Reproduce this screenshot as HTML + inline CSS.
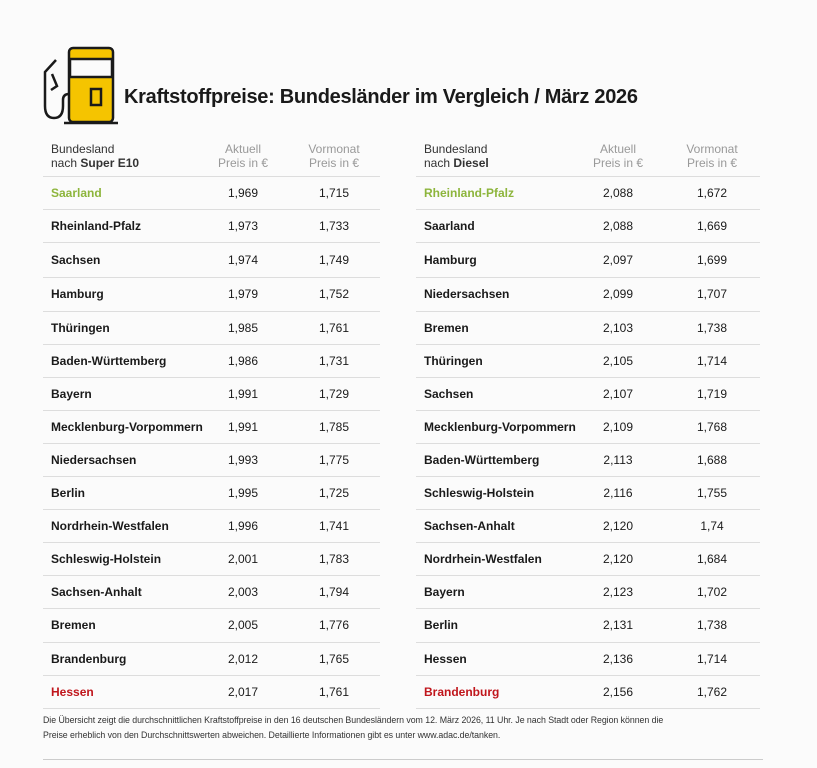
<!DOCTYPE html>
<html><head><meta charset="utf-8"><style>
body{margin:0;width:817px;height:768px;background:#fbfbfb;font-family:"Liberation Sans",sans-serif;color:#1a1a1a;position:relative;overflow:hidden}
.a{position:absolute;white-space:nowrap}
.h{font-size:12px;line-height:14px;color:#333}
.hg{font-size:12px;line-height:14px;color:#999;text-align:center;width:80px}
.r{position:absolute;height:33px;width:337px}
.r span{position:absolute;top:10px;font-size:12px;line-height:14px}
.n{left:8px;font-weight:bold}
.c1{width:60px;text-align:center}
.ln{position:absolute;height:1px;background:#ddd}
.g{color:#8db53c}.rd{color:#c0161c}
</style></head><body>
<svg class="a" style="left:42px;top:46px" width="76" height="80" viewBox="0 0 76 80">
<rect x="27" y="2" width="44" height="74" rx="4" fill="#f5c400" stroke="#1a1a1a" stroke-width="2.5"/>
<rect x="28" y="13" width="42" height="18" fill="#fbfbfb" stroke="#1a1a1a" stroke-width="2.5"/>
<rect x="49" y="43" width="10" height="16" fill="none" stroke="#1a1a1a" stroke-width="2.5"/>
<line x1="22" y1="77" x2="76" y2="77" stroke="#1a1a1a" stroke-width="2.5"/>
<path d="M14 14 L3 26 L3 60 Q3 72 12 72 Q21 72 21 60 L21 54 Q21 48 27 48" fill="none" stroke="#1a1a1a" stroke-width="2.5"/>
<path d="M10 28 L15 40 L9 44" fill="none" stroke="#1a1a1a" stroke-width="2.5"/>
</svg>
<div class="a" style="left:124px;top:86px;font-size:20px;font-weight:bold;letter-spacing:-0.3px">Kraftstoffpreise: Bundesländer im Vergleich / März 2026</div>

<div class="a h" style="left:51px;top:142px">Bundesland<br>nach <b>Super E10</b></div>
<div class="a hg" style="left:203px;top:142px">Aktuell<br>Preis in €</div>
<div class="a hg" style="left:294px;top:142px">Vormonat<br>Preis in €</div>
<div class="a h" style="left:424px;top:142px">Bundesland<br>nach <b>Diesel</b></div>
<div class="a hg" style="left:578px;top:142px">Aktuell<br>Preis in €</div>
<div class="a hg" style="left:672px;top:142px">Vormonat<br>Preis in €</div>

<div class="ln" style="left:43px;top:176px;width:337px"></div>
<div class="ln" style="left:416px;top:176px;width:344px"></div>

<div class="r" style="left:43px;top:176px"><span class="n g">Saarland</span><span class="c1" style="left:170px">1,969</span><span class="c1" style="left:261px">1,715</span></div>
<div class="r" style="left:43px;top:209px"><span class="n">Rheinland-Pfalz</span><span class="c1" style="left:170px">1,973</span><span class="c1" style="left:261px">1,733</span></div>
<div class="r" style="left:43px;top:243px"><span class="n">Sachsen</span><span class="c1" style="left:170px">1,974</span><span class="c1" style="left:261px">1,749</span></div>
<div class="r" style="left:43px;top:277px"><span class="n">Hamburg</span><span class="c1" style="left:170px">1,979</span><span class="c1" style="left:261px">1,752</span></div>
<div class="r" style="left:43px;top:311px"><span class="n">Thüringen</span><span class="c1" style="left:170px">1,985</span><span class="c1" style="left:261px">1,761</span></div>
<div class="r" style="left:43px;top:344px"><span class="n">Baden-Württemberg</span><span class="c1" style="left:170px">1,986</span><span class="c1" style="left:261px">1,731</span></div>
<div class="r" style="left:43px;top:377px"><span class="n">Bayern</span><span class="c1" style="left:170px">1,991</span><span class="c1" style="left:261px">1,729</span></div>
<div class="r" style="left:43px;top:410px"><span class="n">Mecklenburg-Vorpommern</span><span class="c1" style="left:170px">1,991</span><span class="c1" style="left:261px">1,785</span></div>
<div class="r" style="left:43px;top:443px"><span class="n">Niedersachsen</span><span class="c1" style="left:170px">1,993</span><span class="c1" style="left:261px">1,775</span></div>
<div class="r" style="left:43px;top:476px"><span class="n">Berlin</span><span class="c1" style="left:170px">1,995</span><span class="c1" style="left:261px">1,725</span></div>
<div class="r" style="left:43px;top:509px"><span class="n">Nordrhein-Westfalen</span><span class="c1" style="left:170px">1,996</span><span class="c1" style="left:261px">1,741</span></div>
<div class="r" style="left:43px;top:542px"><span class="n">Schleswig-Holstein</span><span class="c1" style="left:170px">2,001</span><span class="c1" style="left:261px">1,783</span></div>
<div class="r" style="left:43px;top:575px"><span class="n">Sachsen-Anhalt</span><span class="c1" style="left:170px">2,003</span><span class="c1" style="left:261px">1,794</span></div>
<div class="r" style="left:43px;top:608px"><span class="n">Bremen</span><span class="c1" style="left:170px">2,005</span><span class="c1" style="left:261px">1,776</span></div>
<div class="r" style="left:43px;top:642px"><span class="n">Brandenburg</span><span class="c1" style="left:170px">2,012</span><span class="c1" style="left:261px">1,765</span></div>
<div class="r" style="left:43px;top:675px"><span class="n rd">Hessen</span><span class="c1" style="left:170px">2,017</span><span class="c1" style="left:261px">1,761</span></div>

<div class="r" style="left:416px;top:176px"><span class="n g">Rheinland-Pfalz</span><span class="c1" style="left:172px">2,088</span><span class="c1" style="left:266px">1,672</span></div>
<div class="r" style="left:416px;top:209px"><span class="n">Saarland</span><span class="c1" style="left:172px">2,088</span><span class="c1" style="left:266px">1,669</span></div>
<div class="r" style="left:416px;top:243px"><span class="n">Hamburg</span><span class="c1" style="left:172px">2,097</span><span class="c1" style="left:266px">1,699</span></div>
<div class="r" style="left:416px;top:277px"><span class="n">Niedersachsen</span><span class="c1" style="left:172px">2,099</span><span class="c1" style="left:266px">1,707</span></div>
<div class="r" style="left:416px;top:311px"><span class="n">Bremen</span><span class="c1" style="left:172px">2,103</span><span class="c1" style="left:266px">1,738</span></div>
<div class="r" style="left:416px;top:344px"><span class="n">Thüringen</span><span class="c1" style="left:172px">2,105</span><span class="c1" style="left:266px">1,714</span></div>
<div class="r" style="left:416px;top:377px"><span class="n">Sachsen</span><span class="c1" style="left:172px">2,107</span><span class="c1" style="left:266px">1,719</span></div>
<div class="r" style="left:416px;top:410px"><span class="n">Mecklenburg-Vorpommern</span><span class="c1" style="left:172px">2,109</span><span class="c1" style="left:266px">1,768</span></div>
<div class="r" style="left:416px;top:443px"><span class="n">Baden-Württemberg</span><span class="c1" style="left:172px">2,113</span><span class="c1" style="left:266px">1,688</span></div>
<div class="r" style="left:416px;top:476px"><span class="n">Schleswig-Holstein</span><span class="c1" style="left:172px">2,116</span><span class="c1" style="left:266px">1,755</span></div>
<div class="r" style="left:416px;top:509px"><span class="n">Sachsen-Anhalt</span><span class="c1" style="left:172px">2,120</span><span class="c1" style="left:266px">1,74</span></div>
<div class="r" style="left:416px;top:542px"><span class="n">Nordrhein-Westfalen</span><span class="c1" style="left:172px">2,120</span><span class="c1" style="left:266px">1,684</span></div>
<div class="r" style="left:416px;top:575px"><span class="n">Bayern</span><span class="c1" style="left:172px">2,123</span><span class="c1" style="left:266px">1,702</span></div>
<div class="r" style="left:416px;top:608px"><span class="n">Berlin</span><span class="c1" style="left:172px">2,131</span><span class="c1" style="left:266px">1,738</span></div>
<div class="r" style="left:416px;top:642px"><span class="n">Hessen</span><span class="c1" style="left:172px">2,136</span><span class="c1" style="left:266px">1,714</span></div>
<div class="r" style="left:416px;top:675px"><span class="n rd">Brandenburg</span><span class="c1" style="left:172px">2,156</span><span class="c1" style="left:266px">1,762</span></div>

<div class="ln" style="left:43px;top:209px;width:337px"></div><div class="ln" style="left:416px;top:209px;width:344px"></div>
<div class="ln" style="left:43px;top:242px;width:337px"></div><div class="ln" style="left:416px;top:242px;width:344px"></div>
<div class="ln" style="left:43px;top:277px;width:337px"></div><div class="ln" style="left:416px;top:277px;width:344px"></div>
<div class="ln" style="left:43px;top:311px;width:337px"></div><div class="ln" style="left:416px;top:311px;width:344px"></div>
<div class="ln" style="left:43px;top:344px;width:337px"></div><div class="ln" style="left:416px;top:344px;width:344px"></div>
<div class="ln" style="left:43px;top:377px;width:337px"></div><div class="ln" style="left:416px;top:377px;width:344px"></div>
<div class="ln" style="left:43px;top:410px;width:337px"></div><div class="ln" style="left:416px;top:410px;width:344px"></div>
<div class="ln" style="left:43px;top:443px;width:337px"></div><div class="ln" style="left:416px;top:443px;width:344px"></div>
<div class="ln" style="left:43px;top:476px;width:337px"></div><div class="ln" style="left:416px;top:476px;width:344px"></div>
<div class="ln" style="left:43px;top:509px;width:337px"></div><div class="ln" style="left:416px;top:509px;width:344px"></div>
<div class="ln" style="left:43px;top:542px;width:337px"></div><div class="ln" style="left:416px;top:542px;width:344px"></div>
<div class="ln" style="left:43px;top:575px;width:337px"></div><div class="ln" style="left:416px;top:575px;width:344px"></div>
<div class="ln" style="left:43px;top:608px;width:337px"></div><div class="ln" style="left:416px;top:608px;width:344px"></div>
<div class="ln" style="left:43px;top:642px;width:337px"></div><div class="ln" style="left:416px;top:642px;width:344px"></div>
<div class="ln" style="left:43px;top:675px;width:337px"></div><div class="ln" style="left:416px;top:675px;width:344px"></div>
<div class="ln" style="left:43px;top:708px;width:337px"></div><div class="ln" style="left:416px;top:708px;width:344px"></div>

<div class="a" style="left:43px;top:713px;font-size:8.8px;line-height:15px;color:#333;letter-spacing:-0.05px">Die Übersicht zeigt die durchschnittlichen Kraftstoffpreise in den 16 deutschen Bundesländern vom 12. März 2026, 11 Uhr. Je nach Stadt oder Region können die<br>Preise erheblich von den Durchschnittswerten abweichen. Detaillierte Informationen gibt es unter www.adac.de/tanken.</div>
<div class="ln" style="left:43px;top:759px;width:720px;background:#ccc"></div>
</body></html>
